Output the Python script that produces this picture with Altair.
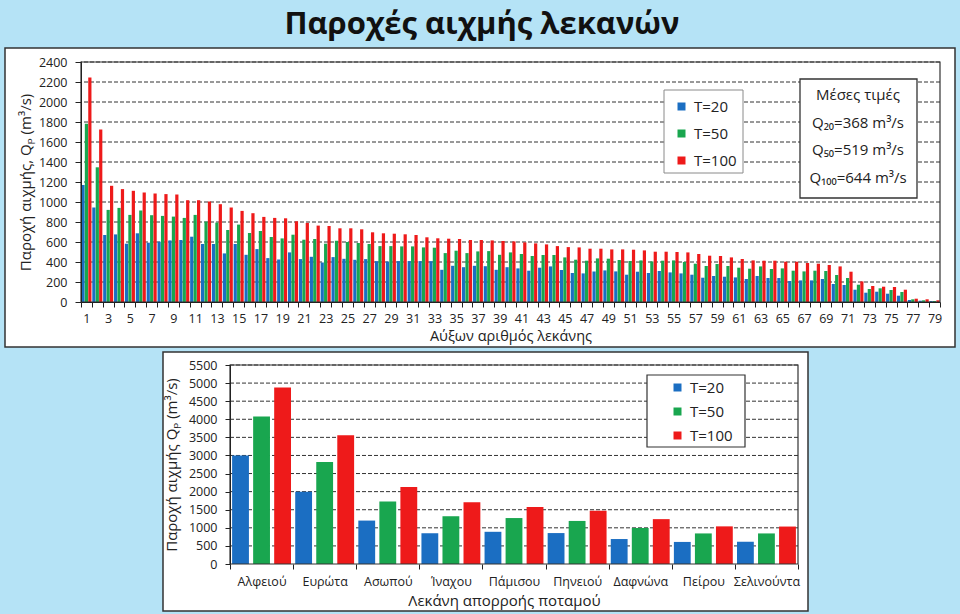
import altair as alt
import pandas as pd

# ---------------- data ----------------
basins = list(range(1, 80))
q20 = [1170, 945, 670, 676, 583, 687, 593, 603, 616, 620,
       653, 580, 580, 486, 580, 472, 529, 439, 425, 496,
       429, 452, 395, 449, 432, 422, 429, 409, 405, 409,
       409, 409, 409, 322, 362, 348, 362, 358, 322, 348,
       336, 313, 343, 356, 320, 290, 286, 306, 316, 306,
       273, 303, 290, 310, 296, 286, 273, 243, 260, 253,
       246, 230, 260, 240, 240, 210, 216, 216, 230, 180,
       170, 123, 93, 103, 83, 63, 20, 13, 10]
q50 = [1782, 1347, 921, 941, 871, 915, 868, 861, 854, 841,
       871, 804, 794, 720, 774, 690, 710, 650, 636, 673,
       623, 630, 583, 613, 600, 590, 580, 559, 559, 556,
       556, 546, 543, 489, 513, 489, 506, 509, 472, 496,
       480, 460, 470, 470, 446, 423, 413, 436, 433, 420,
       410, 416, 406, 413, 416, 400, 383, 360, 380, 360,
       343, 333, 356, 330, 336, 313, 306, 313, 310, 270,
       240, 173, 130, 137, 120, 100, 27, 17, 10]
q100 = [2245, 1725, 1162, 1129, 1112, 1095, 1085, 1079, 1075, 1018,
        1018, 1005, 978, 945, 911, 888, 851, 841, 837, 807,
        791, 764, 760, 737, 737, 727, 697, 687, 683, 677,
        670, 647, 637, 633, 630, 620, 620, 616, 610, 606,
        596, 586, 576, 559, 549, 546, 533, 533, 526, 526,
        523, 516, 503, 503, 500, 496, 480, 463, 460, 446,
        430, 416, 413, 413, 403, 403, 390, 383, 370, 356,
        303, 206, 160, 153, 150, 123, 33, 27, 17]

series = ["T=20", "T=50", "T=100"]
colors = ["#1b6ec2", "#19a64f", "#ee1a1a"]

rivers = ["Αλφειού", "Ευρώτα", "Ασωπού", "Ίναχου", "Πάμισου",
          "Πηνειού", "Δαφνώνα", "Πείρου", "Σελινούντα"]
r20 = [3000, 2000, 1200, 850, 890, 855, 690, 610, 615]
r50 = [4080, 2820, 1730, 1320, 1270, 1190, 995, 845, 845]
r100 = [4880, 3560, 2130, 1710, 1575, 1470, 1240, 1040, 1035]

top_yticks = list(range(0, 2401, 200))
bot_yticks = list(range(0, 5501, 500))
means_lines = ["Μέσες τιμές", "Q₂₀=368 m³/s", "Q₅₀=519 m³/s", "Q₁₀₀=644 m³/s"]
title_text = "Παροχές αιχμής λεκανών"
top_xtitle = "Αύξων αριθμός λεκάνης"
top_ytitle = "Παροχή αιχμής, Qₚ (m³/s)"
bot_xtitle = "Λεκάνη απορροής ποταμού"
bot_ytitle = "Παροχή αιχμής Qₚ (m³/s)"

# ---------------- style ----------------
FONT = "Open Sans"
BG = "#b5e3f6"
INK = "#222222"
EDGE = "#333333"

df_top = pd.DataFrame({"basin": basins * 3,
                       "T": [s for s in series for _ in basins],
                       "Q": q20 + q50 + q100})
df_bot = pd.DataFrame({"river": rivers * 3,
                       "T": [s for s in series for _ in rivers],
                       "Q": r20 + r50 + r100})
one = pd.DataFrame({"k": [0]})


def rect(x, x2, y, y2, **kw):
    return alt.Chart(one).mark_rect(**kw).encode(
        x=alt.value(x), x2=alt.value(x2), y=alt.value(y), y2=alt.value(y2))


# ---------------- top panel ----------------
OX, OY1 = 81, 62
W1, H1 = 859, 240

top_y_scale = alt.Scale(domain=[0, 2400], nice=False)
top_y_axis = alt.Axis(title=top_ytitle, values=top_yticks, format="d",
                      grid=False, tickSize=6, labelPadding=8,
                      labelFontSize=12.5, titleFontSize=15,
                      titleFontWeight="normal", titlePadding=5,
                      domainColor=INK, tickColor=INK, labelColor=INK,
                      titleColor=INK, zindex=1)
top_x_axis = alt.Axis(title=top_xtitle, labelAngle=0,
                      labelExpr="datum.value % 2 == 1 ? datum.label : ''",
                      labelOverlap=False, tickBand="extent", tickSize=5,
                      labelPadding=5, labelFontSize=12.5, titleFontSize=14.5,
                      titleFontWeight="normal", titlePadding=5, grid=False,
                      domainColor=INK, tickColor=INK, labelColor=INK,
                      titleColor=INK, zindex=1)

top_bg = rect(-OX, 960 - OX, -OY1, 348 - OY1, fill=BG)
top_panel = rect(5 - OX, 955 - OX, 48 - OY1, 347 - OY1,
                 fill="white", stroke=EDGE, strokeWidth=1.5)
top_grid = alt.Chart(pd.DataFrame({"Q": top_yticks[1:]})).mark_rule(
    color="#333", strokeWidth=1, strokeDash=[4, 2]).encode(
    y=alt.Y("Q:Q", scale=top_y_scale, axis=top_y_axis))
top_bars = alt.Chart(df_top).mark_bar().encode(
    x=alt.X("basin:O", scale=alt.Scale(paddingInner=0, paddingOuter=0),
            axis=top_x_axis),
    xOffset=alt.XOffset("T:N", sort=series,
                        scale=alt.Scale(domain=series, paddingInner=0.06,
                                        paddingOuter=0.12)),
    y=alt.Y("Q:Q", scale=top_y_scale, axis=top_y_axis),
    color=alt.Color("T:N", sort=series,
                    scale=alt.Scale(domain=series, range=colors),
                    legend=alt.Legend(title=None, orient="none",
                                      legendX=674 - OX, legendY=99 - OY1,
                                      direction="vertical",
                                      symbolType="square", symbolSize=64,
                                      symbolStrokeWidth=0, labelFontSize=15,
                                      labelColor=INK, rowPadding=11,
                                      padding=0, labelOffset=5, zindex=1)),
)
top_frame = rect(0, W1, 0, H1, fillOpacity=0, stroke=EDGE, strokeWidth=1.2)
top_title = alt.Chart(one).mark_text(
    text=title_text, font=FONT, fontSize=31, fontWeight="bold", color="#111",
    align="center", baseline="alphabetic").encode(
    x=alt.value(482 - OX), y=alt.value(34 - OY1))
means_box = rect(800 - OX, 917 - OX, 79 - OY1, 198 - OY1,
                 fill="white", stroke=EDGE, strokeWidth=1.3)
means_text = alt.Chart(one).mark_text(
    text=means_lines, lineHeight=27.7, fontSize=15, color=INK,
    align="center", baseline="middle").encode(
    x=alt.value(858 - OX), y=alt.value(95 - OY1))
top_leg_box = rect(664 - OX, 743 - OX, 90 - OY1, 173 - OY1,
                   fill="white", stroke="#8a8a8a", strokeWidth=1)

top = alt.layer(top_bg, top_panel, top_grid, top_bars, top_frame, top_title,
                means_box, means_text, top_leg_box).properties(
    width=W1, height=H1)

# ---------------- bottom panel ----------------
# plot origin shared with the top panel (x=81); bars start at x=230
OY2 = 365
X0, X1 = 230 - OX, 798 - OX
W2, H2 = X1, 199

bot_y_scale = alt.Scale(domain=[0, 5500], nice=False)
bot_y_axis = alt.Axis(title=bot_ytitle, values=bot_yticks, format="d",
                      grid=False, offset=-X0,
                      tickSize=5, labelPadding=8, labelFontSize=12.5,
                      titleFontSize=15, titleFontWeight="normal", titlePadding=9,
                      domainColor=INK, tickColor=INK, labelColor=INK,
                      titleColor=INK, zindex=1)
bot_x_axis = alt.Axis(title=bot_xtitle, labelAngle=0, labelOverlap=False,
                      tickBand="extent", tickSize=5, labelPadding=6,
                      labelFontSize=12.5, titleFontSize=15, domain=False,
                      titleFontWeight="normal", titlePadding=6, grid=False,
                      titleX=504 - OX,
                      tickColor=INK, labelColor=INK,
                      titleColor=INK, zindex=1)

bot_bg = rect(-OX, 960 - OX, 348 - OY2, 614 - OY2, fill=BG)
bot_panel = rect(163 - OX, 808 - OX, 352 - OY2, 611 - OY2,
                 fill="white", stroke=EDGE, strokeWidth=1.5)
bot_grid = alt.Chart(pd.DataFrame({"Q": bot_yticks[1:]})).mark_rule(
    color="#333", strokeWidth=1, strokeDash=[4, 2]).encode(
    y=alt.Y("Q:Q", scale=bot_y_scale, axis=bot_y_axis),
    x=alt.value(X0), x2=alt.value(X1))
bot_bars = alt.Chart(df_bot).mark_bar().encode(
    x=alt.X("river:N", sort=rivers,
            scale=alt.Scale(range=[X0, X1], paddingInner=0, paddingOuter=0),
            axis=bot_x_axis),
    xOffset=alt.XOffset("T:N", sort=series,
                        scale=alt.Scale(domain=series, paddingInner=0.2,
                                        paddingOuter=0.1)),
    y=alt.Y("Q:Q", scale=bot_y_scale, axis=bot_y_axis),
    color=alt.Color("T:N", sort=series,
                    scale=alt.Scale(domain=series, range=colors),
                    legend=alt.Legend(title=None, orient="none",
                                      legendX=670 - OX, legendY=380 - OY2,
                                      direction="vertical",
                                      symbolType="square", symbolSize=64,
                                      symbolStrokeWidth=0, labelFontSize=15,
                                      labelColor=INK, rowPadding=8,
                                      padding=0, labelOffset=5, zindex=1)),
)
bot_frame = rect(X0, X1, 0, H2, fillOpacity=0, stroke=EDGE, strokeWidth=1.2)
bot_leg_box = rect(647 - OX, 745 - OX, 375 - OY2, 447 - OY2,
                   fill="white", stroke=EDGE, strokeWidth=1.2)

bottom = alt.layer(bot_bg, bot_panel, bot_grid, bot_bars, bot_frame,
                   bot_leg_box).properties(width=W2, height=H2)

chart = alt.vconcat(top, bottom, spacing=0).resolve_scale(
    x="independent", y="independent", xOffset="independent",
    color="independent").resolve_legend(color="independent").properties(
    padding=0, background=BG).configure(font=FONT).configure_view(strokeWidth=0)

chart.save("out.html", embed_options={"renderer": "svg", "actions": False})
